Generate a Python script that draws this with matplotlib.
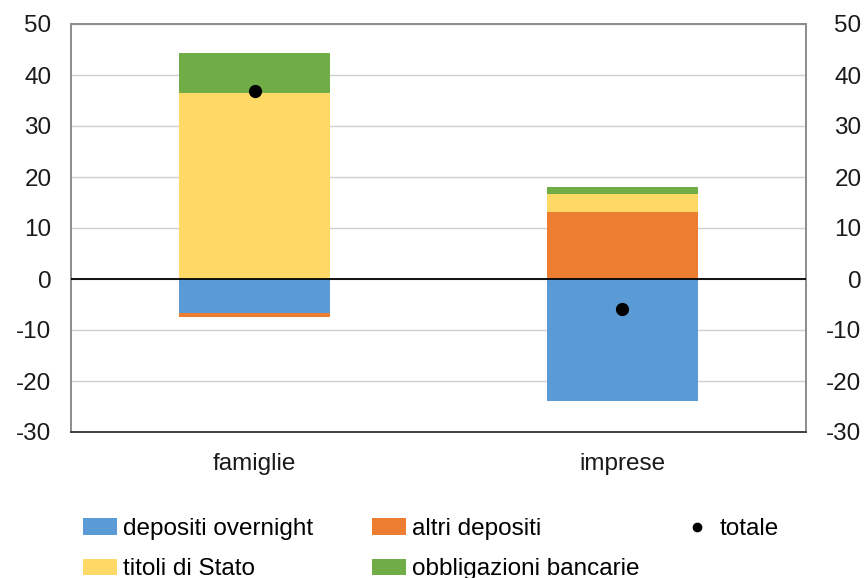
import matplotlib
matplotlib.use("Agg")
import matplotlib.pyplot as plt
from matplotlib.patches import Patch
from matplotlib.lines import Line2D
import numpy as np

plt.rcParams['font.family'] = ['Liberation Sans', 'DejaVu Sans']

categories = ["famiglie", "imprese"]
depositi_overnight = [-6.6, -23.9]
altri_depositi = [-0.8, 13.2]
titoli_di_stato = [36.4, 3.4]
obbligazioni_bancarie = [8.0, 1.4]
totale = [36.9, -5.9]
yticks = [-30, -20, -10, 0, 10, 20, 30, 40, 50]

series = [
    ("depositi overnight", depositi_overnight, "#5B9BD5"),
    ("altri depositi", altri_depositi, "#ED7D31"),
    ("titoli di Stato", titoli_di_stato, "#FFD966"),
    ("obbligazioni bancarie", obbligazioni_bancarie, "#70AD47"),
]

fig = plt.figure(figsize=(8.66, 5.78), dpi=100)
ax = fig.add_axes([71 / 866, 1 - 432 / 578, 735 / 866, 408 / 578])

x = np.arange(len(categories))
width = 0.41
pos_base = np.zeros(len(categories))
neg_base = np.zeros(len(categories))
for name, vals, color in series:
    vals = np.array(vals)
    base = np.where(vals >= 0, pos_base, neg_base)
    ax.bar(x, vals, width, bottom=base, color=color, zorder=2, linewidth=0)
    pos_base = np.where(vals >= 0, pos_base + vals, pos_base)
    neg_base = np.where(vals < 0, neg_base + vals, neg_base)

ax.plot(x, totale, 'o', color='black', markersize=8.5, zorder=4, linestyle='none')
ax.axhline(0, color='black', linewidth=1.3, zorder=3)

fs = 17.5
ax.set_xlim(-0.5, 1.5)
ax.set_ylim(-30, 50)
ax.set_yticks(yticks)
ax.set_yticklabels([str(v) for v in yticks])
ax.set_xticks(x)
ax.set_xticklabels(categories)
ax.yaxis.grid(True, color='#D0D0D0', linewidth=1.0, zorder=0)
ax.set_axisbelow(True)
ax.tick_params(axis='y', length=0, pad=14, labelsize=fs, colors='#1a1a1a')
ax.tick_params(axis='x', length=0, pad=15, labelsize=fs, colors='#1a1a1a')
for side in ['left', 'right', 'top']:
    ax.spines[side].set_color('#8c8c8c')
    ax.spines[side].set_linewidth(1.4)
ax.spines['bottom'].set_color('#404040')
ax.spines['bottom'].set_linewidth(1.4)

# Right-hand labels, right-aligned like the left ones
ax2 = ax.twinx()
ax2.set_ylim(-30, 50)
ax2.set_yticks(yticks)
ax2.set_yticklabels([str(v) for v in yticks])
ax2.tick_params(axis='y', length=0, pad=40, labelsize=fs, colors='#1a1a1a')
for lab in ax2.get_yticklabels():
    lab.set_horizontalalignment('right')
for s in ax2.spines.values():
    s.set_visible(False)

common = dict(frameon=False, fontsize=fs, handlelength=1.4, handleheight=0.65,
              handletextpad=0.25, labelspacing=0.75, borderpad=0, borderaxespad=0,
              loc='upper left')
h = {name: Patch(facecolor=color, edgecolor='none') for name, _, color in series}
top = 1 - 518 / 578
leg1 = fig.legend([h["depositi overnight"], h["titoli di Stato"]],
                  ["depositi overnight", "titoli di Stato"],
                  bbox_to_anchor=(83 / 866, top), **common)
leg2 = fig.legend([h["altri depositi"], h["obbligazioni bancarie"]],
                  ["altri depositi", "obbligazioni bancarie"],
                  bbox_to_anchor=(372 / 866, top), **common)
dot = Line2D([], [], marker='o', color='black', linestyle='none', markersize=6)
leg3 = fig.legend([dot], ["totale"], bbox_to_anchor=(680 / 866, top), **common)

fig.savefig("out.png", dpi=100)
